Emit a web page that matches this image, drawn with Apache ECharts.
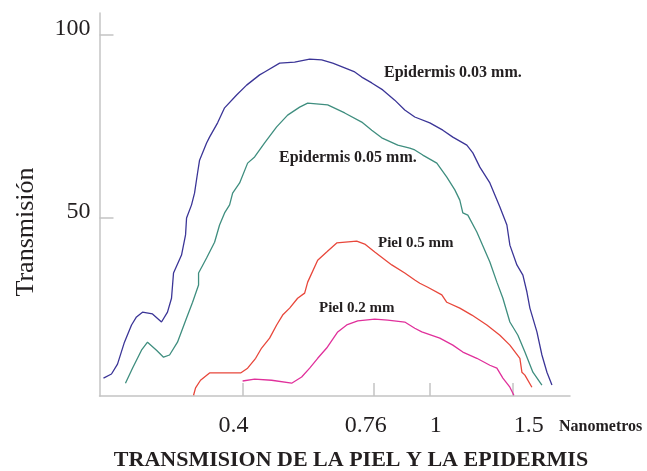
<!DOCTYPE html>
<html>
<head>
<meta charset="utf-8">
<script src="https://cdn.jsdelivr.net/npm/echarts@6/dist/echarts.min.js"></script>
<style>html,body{margin:0;padding:0;background:#fff}#c{width:647px;height:471px}</style>
</head>
<body>
<div id="c"></div>
<script>
const xTickValues = [0.4, 0.76, 1, 1.5];
const yTickValues = [50, 100];

const epid003X = [0.2025,0.2106,0.2169,0.2244,0.2323,0.2380,0.2451,0.2574,0.2690,0.2770,0.2825,0.2853,0.2967,0.3026,0.3041,0.3116,0.3162,0.3209,0.3241,0.3354,0.3403,0.3540,0.3663,0.3885,0.4080,0.4348,0.4456,0.4796,0.5161,0.5555,0.5891,0.6218,0.6594,0.6925,0.7167,0.7527,0.7943,0.8424,0.8847,0.9291,1.0,1.0658,1.1193,1.1987,1.2345,1.2776,1.3417,1.4091,1.4583,1.4798,1.5314,1.5771,1.6084,1.6321,1.6891,1.7310,1.7740,1.8180];
const epid003Y = [6.3,7.4,10.1,16.1,20.8,23.0,24.3,23.8,21.6,24.3,28.1,35.0,39.9,45.4,50.0,53.6,56.8,62.3,65.8,70.5,72.1,76.0,80.1,83.6,86.3,89.1,89.9,92.3,92.6,93.4,93.2,92.3,91.0,89.9,88.5,86.9,85.0,82.2,79.5,77.6,76.0,74.0,72.1,69.9,67.8,63.9,59.6,53.0,48.1,42.6,37.2,34.4,29.8,25.4,18.9,12.6,7.9,4.4];

const epid005X = [0.2255,0.2334,0.2439,0.2512,0.2625,0.2717,0.2798,0.2909,0.3041,0.3132,0.3225,0.3225,0.3354,0.3488,0.3574,0.3663,0.3754,0.3810,0.3943,0.4100,0.4243,0.4348,0.4456,0.4726,0.4987,0.5289,0.5501,0.6067,0.6594,0.7167,0.7527,0.7904,0.8549,0.9067,0.9291,0.9663,1.0349,1.0868,1.1303,1.1582,1.1754,1.2046,1.2588,1.3417,1.3886,1.4300,1.4798,1.5390,1.5927,1.6562,1.7310];
const epid005Y = [4.9,9.0,13.9,16.1,13.9,12.0,12.6,16.1,22.7,27.0,31.7,35.0,39.1,43.4,48.1,51.4,53.6,56.8,59.6,65.0,66.7,68.6,70.5,74.9,78.1,80.3,81.4,80.9,78.7,76.2,74.0,71.9,69.9,69.1,68.6,67.2,65.0,61.2,57.7,54.9,51.4,50.8,46.2,38.0,32.5,28.1,21.6,18.0,13.4,7.9,4.4];

const piel05X = [0.3147,0.3178,0.3256,0.3403,0.3962,0.4100,0.4264,0.4391,0.4566,0.4726,0.4867,0.5036,0.5237,0.5420,0.5501,0.5777,0.6037,0.6341,0.6993,0.7273,0.7638,0.8301,0.8847,0.9291,0.9522,0.9902,1.0605,1.0868,1.1582,1.2285,1.3221,1.4091,1.4798,1.5541,1.5694,1.5927,1.6482];
const piel05Y = [1.6,3.6,5.7,7.7,7.7,9.0,11.7,14.5,17.2,20.8,23.5,25.4,28.1,29.5,32.5,38.5,40.7,43.2,43.7,42.9,40.7,37.2,35.0,33.1,32.2,31.1,29.0,27.0,25.4,23.5,20.8,18.0,15.3,11.7,7.9,7.1,3.8];

const piel02X = [0.4001,0.4243,0.4611,0.5086,0.5341,0.5555,0.5777,0.6037,0.6372,0.6659,0.7028,0.7638,0.8140,0.8847,0.9291,0.9616,1.0502,1.1193,1.1754,1.2588,1.3417,1.3886,1.4300,1.4798,1.5091];
const piel02Y = [5.5,6.0,5.7,4.9,6.6,9.0,11.7,14.5,18.9,20.8,21.9,22.4,22.1,21.6,19.9,18.9,17.2,15.3,13.4,11.7,9.8,9.0,6.3,3.8,1.6];

const seriesNames = ['Epidermis 0.03 mm.', 'Epidermis 0.05 mm.', 'Piel 0.5 mm', 'Piel 0.2 mm'];
const yTitle = 'Transmisión';
const xUnit = 'Nanometros';
const mainTitle = 'TRANSMISION DE LA PIEL Y LA EPIDERMIS';

const zip = (xs, ys) => xs.map((x, i) => [x, ys[i]]);
const serif = '"Liberation Serif", "Times New Roman", serif';
const axisGray = '#c4c4c4';
const textColor = '#231f20';

const labelShift = {0.4: -9, 0.76: -8, 1: 6, 1.5: 16};
const rich = {};
xTickValues.forEach((v, i) => {
  const s = labelShift[v] || 0;
  rich['p' + i] = {
    fontFamily: serif, fontSize: 24, color: textColor,
    padding: s < 0 ? [0, -2 * s, 0, 0] : [0, 0, 0, 2 * s]
  };
});

const colors = ['#3b3597', '#3f8e7f', '#e8473b', '#e0309b'];
const datasets = [zip(epid003X, epid003Y), zip(epid005X, epid005Y), zip(piel05X, piel05Y), zip(piel02X, piel02Y)];

const chart = echarts.init(document.getElementById('c'), null, {renderer: 'canvas'});
chart.setOption({
  animation: false,
  backgroundColor: '#fff',
  grid: {left: 99.5, right: 77, top: 13, bottom: 75},
  xAxis: {
    type: 'log', logBase: 10, min: 0.1986, max: 1.986,
    axisLine: {lineStyle: {color: axisGray, width: 1.5}},
    axisTick: {inside: true, length: 13, customValues: xTickValues, lineStyle: {color: axisGray, width: 1.5}},
    axisLabel: {
      customValues: xTickValues, margin: 18, fontFamily: serif, fontSize: 24, color: textColor,
      formatter: (v) => { const i = xTickValues.findIndex(t => Math.abs(t - v) < 1e-6); return '{p' + i + '|' + String(xTickValues[i]) + '}'; },
      rich: rich
    },
    splitLine: {show: false}, minorTick: {show: false}
  },
  yAxis: {
    type: 'value', min: 1.4, max: 106,
    axisLine: {show: true, lineStyle: {color: axisGray, width: 1.5}},
    axisTick: {show: true, inside: true, length: 14, customValues: yTickValues, lineStyle: {color: axisGray, width: 1.5}},
    axisLabel: {customValues: yTickValues, margin: 9, fontFamily: serif, fontSize: 24, color: textColor, verticalAlign: 'bottom', lineHeight: 12},
    splitLine: {show: false}
  },
  series: datasets.map((d, i) => ({
    name: seriesNames[i], type: 'line', data: d, showSymbol: false, symbol: 'none',
    lineStyle: {color: colors[i], width: 1.3}, itemStyle: {color: colors[i]}, z: 3
  })),
  graphic: [
    {type: 'text', x: 26, y: 232, rotation: Math.PI / 2, style: {text: yTitle, font: '26px ' + serif, fill: textColor, align: 'center', verticalAlign: 'middle'}},
    {type: 'text', x: 559, y: 427, style: {text: xUnit, font: 'bold 16px ' + serif, fill: textColor, align: 'left', verticalAlign: 'middle'}},
    {type: 'text', x: 351, y: 460, style: {text: mainTitle, font: 'bold 22px ' + serif, fill: textColor, align: 'center', verticalAlign: 'middle'}},
    {type: 'text', x: 384, y: 73, style: {text: seriesNames[0], font: 'bold 16px ' + serif, fill: textColor, align: 'left', verticalAlign: 'middle'}},
    {type: 'text', x: 279, y: 158, style: {text: seriesNames[1], font: 'bold 16px ' + serif, fill: textColor, align: 'left', verticalAlign: 'middle'}},
    {type: 'text', x: 378, y: 243, style: {text: seriesNames[2], font: 'bold 15px ' + serif, fill: textColor, align: 'left', verticalAlign: 'middle'}},
    {type: 'text', x: 319, y: 308, style: {text: seriesNames[3], font: 'bold 15px ' + serif, fill: textColor, align: 'left', verticalAlign: 'middle'}}
  ]
});
</script>
</body>
</html>
